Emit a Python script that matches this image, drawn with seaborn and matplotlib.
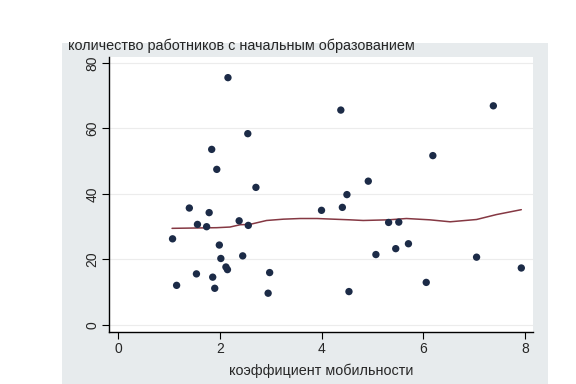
import numpy as np
import pandas as pd
import matplotlib
matplotlib.use("Agg")
import matplotlib.pyplot as plt
import seaborn as sns

# ---- data ----
mobility = [2.16, 4.38, 2.55, 1.84, 1.94, 2.71, 1.40, 1.79, 4.00, 4.41, 4.50,
            2.38, 1.56, 1.74, 2.56, 1.07, 1.99, 2.02, 2.45, 2.12, 2.15, 1.54,
            2.98, 1.86, 1.15, 1.90, 2.95, 4.54,
            7.38, 6.19, 4.92, 5.32, 5.52, 5.71, 5.07, 5.46, 7.05, 7.93, 6.06]
workers = [75.5, 65.6, 58.4, 53.6, 47.5, 42.0, 35.7, 34.3, 35.0, 35.9, 39.8,
           31.8, 30.7, 30.0, 30.4, 26.3, 24.4, 20.3, 21.1, 17.7, 16.9, 15.6,
           16.0, 14.6, 12.1, 11.2, 9.7, 10.2,
           66.9, 51.7, 43.9, 31.3, 31.4, 24.8, 21.5, 23.3, 20.7, 17.4, 13.0]
# smoothed (lowess) curve
smooth_x = [1.06, 1.94, 2.20, 2.40, 2.59, 2.92, 3.25, 3.58, 3.91, 4.23, 4.56,
            4.82, 5.32, 5.67, 6.13, 6.53, 7.05, 7.44, 7.93]
smooth_y = [29.5, 29.7, 29.9, 30.6, 30.7, 31.9, 32.3, 32.5, 32.5, 32.3, 32.1,
            31.9, 32.1, 32.5, 32.1, 31.5, 32.2, 33.7, 35.2]
x_ticks = [0, 2, 4, 6, 8]
y_ticks = [0, 20, 40, 60, 80]
y_title = "количество работников с начальным образованием"
x_title = "коэффициент мобильности"

df = pd.DataFrame({"mobility": mobility, "workers": workers})
sm = pd.DataFrame({"mobility": smooth_x, "fit": smooth_y})

sns.set_theme(style="white")
plt.rcParams["font.family"] = ["Liberation Sans", "DejaVu Sans"]

fig = plt.figure(figsize=(5.76, 3.84), dpi=100)
fig.patch.set_facecolor("white")

bg = fig.add_axes([62 / 576, 0, (548 - 62) / 576, (384 - 43) / 384], zorder=-5)
bg.set_facecolor("#e7ebed")
bg.set_xticks([])
bg.set_yticks([])
for s in bg.spines.values():
    s.set_visible(False)

ax = fig.add_axes([109 / 576, (384 - 332) / 384, (533 - 109) / 576, (332 - 57) / 384], zorder=1)
ax.set_facecolor("white")

for yt in y_ticks:
    ax.axhline(yt, color="#ececec", lw=0.8, zorder=0)

sns.scatterplot(data=df, x="mobility", y="workers", ax=ax, color="#1c2b47",
                s=28, edgecolor="none", zorder=3)
sns.lineplot(data=sm, x="mobility", y="fit", ax=ax, color="#853843",
             lw=1.1, zorder=2, sort=True, estimator=None)

ax.set_xlim(-0.18, 8.16)
ax.set_ylim(-2.14, 81.8)
ax.set_xticks(x_ticks)
ax.set_yticks(y_ticks)
ax.set_xticklabels([str(t) for t in x_ticks], fontsize=10)
ax.set_yticklabels([str(t) for t in y_ticks], fontsize=10, rotation=90, va="center")
ax.tick_params(axis="both", direction="out", length=5, width=0.8, color="black",
               bottom=True, left=True, pad=2)
ax.set_xlabel(x_title, fontsize=10.4, labelpad=6)
ax.set_ylabel("")
for s in ["top", "right"]:
    ax.spines[s].set_visible(False)
for s in ["left", "bottom"]:
    ax.spines[s].set_color("black")
    ax.spines[s].set_linewidth(1.0)

fig.text(68 / 576, (384 - 46) / 384, y_title, fontsize=10.4, ha="left", va="center")

fig.savefig("out.png", dpi=100)
